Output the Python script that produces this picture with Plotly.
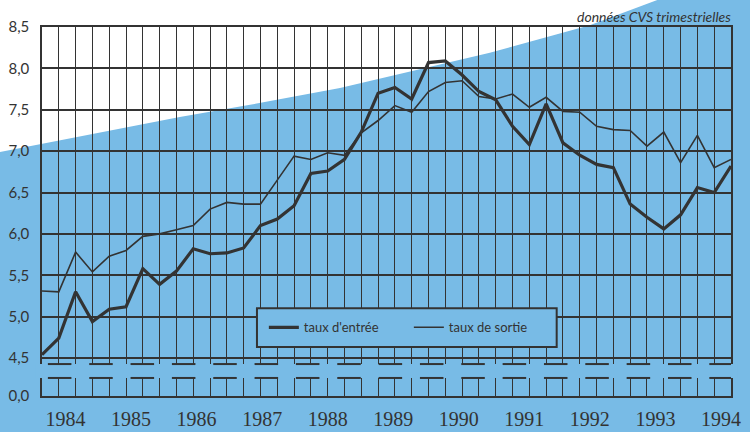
import plotly.graph_objects as go


# taux trimestriels, 1984 T1 -> 1994 T2 (donnees CVS)
taux_entree = [
    4.54, 4.74, 5.30, 4.94, 5.09, 5.12, 5.58, 5.39, 5.55, 5.82, 5.76, 5.77,
    5.83, 6.10, 6.18, 6.34, 6.73, 6.76, 6.90, 7.23, 7.70, 7.77, 7.63, 8.07,
    8.09, 7.92, 7.72, 7.62, 7.30, 7.08, 7.57, 7.10, 6.95, 6.84, 6.80, 6.36,
    6.20, 6.06, 6.23, 6.56, 6.50, 6.82,
]
taux_sortie = [
    5.31, 5.30, 5.78, 5.54, 5.73, 5.80, 5.97, 6.00, 6.05, 6.10, 6.30, 6.38,
    6.36, 6.36, 6.65, 6.94, 6.90, 6.98, 6.95, 7.22, 7.37, 7.55, 7.47, 7.72,
    7.83, 7.85, 7.66, 7.63, 7.69, 7.53, 7.65, 7.48, 7.47, 7.30, 7.26, 7.25,
    7.06, 7.23, 6.86, 7.19, 6.80, 6.90,
]
annees = ["1984", "1985", "1986", "1987", "1988", "1989",
          "1990", "1991", "1992", "1993", "1994"]
y_ticks = [4.5, 5.0, 5.5, 6.0, 6.5, 7.0, 7.5, 8.0, 8.5]

trimestres = list(range(len(taux_entree)))

BLEU = "#78bbe6"
TRAIT = "#333333"
Y_ZERO = 4.041  # position of the "0,0" label under the axis break
BREAK_HI = 4.427
BREAK_LO = 4.259


def add_background(fig):
    # white page corner above the blue band
    pts = [(-0.061, 1.073), (0.893, 1.073), (0.795, 1.005), (0.650, 0.930),
           (0.4325, 0.835), (0.302, 0.789), (0.200, 0.756), (-0.061, 0.661)]
    path = "M " + " L ".join(f"{x},{y}" for x, y in pts) + " Z"
    fig.add_shape(type="path", path=path, xref="paper", yref="paper",
                  fillcolor="white", line=dict(width=0), layer="below")
    return fig


def add_axis_break(fig):
    fig.add_shape(type="rect", xref="paper", yref="y", x0=-0.01, x1=1.01,
                  y0=BREAK_LO, y1=BREAK_HI, fillcolor=BLEU,
                  line=dict(width=0), layer="above")
    k = 0
    while 0.35 + 2.46 * k < 41:
        x0 = 0.35 + 2.46 * k
        x1 = min(x0 + 1.4, 41)
        for yy in (BREAK_HI, BREAK_LO):
            fig.add_shape(type="line", xref="x", yref="y", x0=x0, x1=x1,
                          y0=yy, y1=yy, line=dict(color=TRAIT, width=2),
                          layer="above")
        k += 1
    return fig


def add_legend_box(fig):
    fig.add_shape(type="rect", xref="paper", yref="paper",
                  x0=0.312, x1=0.747, y0=0.133, y1=0.238,
                  fillcolor=BLEU, line=dict(color=TRAIT, width=2),
                  layer="above")
    fig.update_layout(
        showlegend=True,
        legend=dict(
            orientation="h",
            x=0.322,
            y=0.186,
            xanchor="left",
            yanchor="middle",
            bgcolor="rgba(0,0,0,0)",
            borderwidth=0,
            entrywidth=100,
            font=dict(family="Lato", size=13, color=TRAIT),
        ),
    )
    return fig


fig = go.Figure()
fig.add_trace(go.Scatter(x=trimestres, y=taux_sortie, mode="lines",
                         name="taux de sortie",
                         line=dict(color=TRAIT, width=1.6)))
fig.add_trace(go.Scatter(x=trimestres, y=taux_entree, mode="lines",
                         name="taux d'entrée",
                         line=dict(color=TRAIT, width=3.2)))

fig.update_layout(
    width=750,
    height=432,
    margin=dict(l=42, r=19, t=27, b=36, autoexpand=False),
    paper_bgcolor=BLEU,
    plot_bgcolor="rgba(0,0,0,0)",
    legend_traceorder="reversed",
    xaxis=dict(
        range=[0, 41],
        automargin=False,
        tickvals=[1.4 + 3.9 * k for k in range(len(annees))],
        ticktext=annees,
        ticks="outside",
        ticklen=4,
        tickcolor="rgba(0,0,0,0)",
        showgrid=False,
        zeroline=False,
        showline=True,
        mirror=True,
        linecolor=TRAIT,
        linewidth=2,
        tickfont=dict(family="Liberation Serif", size=20, color=TRAIT),
        minor=dict(showgrid=True, tick0=0, dtick=1, gridcolor=TRAIT,
                   gridwidth=1.3, ticks=""),
    ),
    yaxis=dict(
        range=[Y_ZERO, 8.5],
        automargin=False,
        tickvals=[Y_ZERO] + y_ticks,
        ticktext=["0,0"] + [f"{v:.1f}".replace(".", ",") for v in y_ticks],
        showgrid=True,
        gridcolor=TRAIT,
        gridwidth=2,
        zeroline=False,
        showline=True,
        mirror=True,
        linecolor=TRAIT,
        linewidth=1.5,
        ticks="outside",
        ticklen=8,
        tickcolor="rgba(0,0,0,0)",
        tickfont=dict(family="Lato", size=15, color=TRAIT),
    ),
)

fig.add_annotation(
    text="<i>données CVS trimestrielles</i>",
    xref="paper", yref="paper", x=1.003, y=1.0,
    xanchor="right", yanchor="bottom", showarrow=False,
    font=dict(family="Lato", size=14, color=TRAIT),
)

fig = add_background(fig)
fig = add_axis_break(fig)
fig = add_legend_box(fig)

# the page's default 8px body margin would shift the figure
fig.write_html(
    "out.html",
    config={"displayModeBar": False},
    post_script="document.body.style.margin = '0px';",
)
